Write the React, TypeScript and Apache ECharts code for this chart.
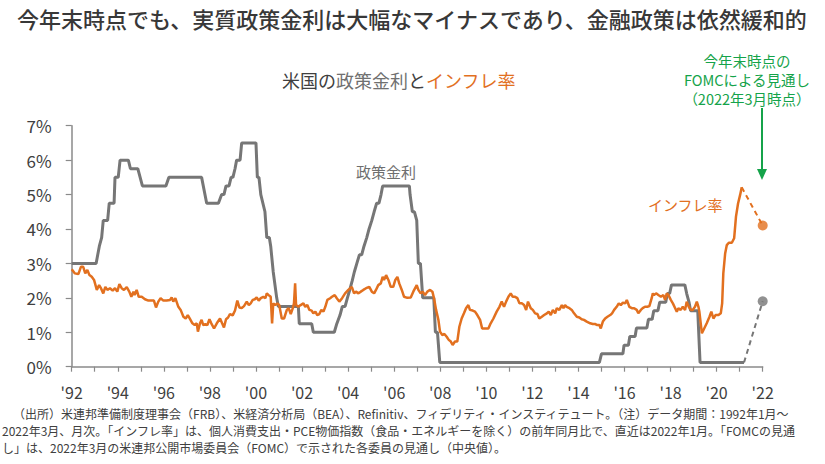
import { useEffect, useRef } from 'react';
import * as echarts from 'echarts';

const FONT = '"Noto Sans CJK JP", "Noto Sans", sans-serif';
const ORANGE = '#E2701F';
const GRAY = '#767676';
const GREEN = '#15A34A';
const TEXT = '#404040';
const AXIS = '#8a8a8a';

const TITLE = '今年末時点でも、実質政策金利は大幅なマイナスであり、金融政策は依然緩和的';
const NOTES = [
  '（出所）米連邦準備制度理事会（FRB）、米経済分析局（BEA）、Refinitiv、フィデリティ・インスティテュート。（注）データ期間：1992年1月～',
  '2022年3月、月次。「インフレ率」は、個人消費支出・PCE物価指数（食品・エネルギーを除く）の前年同月比で、直近は2022年1月。「FOMCの見通',
  'し」は、2022年3月の米連邦公開市場委員会（FOMC）で示された各委員の見通し（中央値）。',
];
const FORECAST_NOTE = ['今年末時点の', 'FOMCによる見通し', '（2022年3月時点）'];

// x axis span (years) and y axis span (%)
const X_MIN = 1992;
const X_MAX = 2022;
const Y_MAX = 7;

// Policy rate (%), vertices of the monthly line
const policyRate: [number, number][] = [
  [1992.0, 3.0], [1993.06, 3.0], [1993.2, 3.5], [1993.3, 3.75], [1993.37, 4.25], [1993.56, 4.25],
  [1993.63, 4.75], [1993.84, 4.75], [1993.88, 5.5], [1994.02, 5.5], [1994.1, 6.0], [1994.46, 6.0],
  [1994.55, 5.75], [1994.87, 5.75], [1995.07, 5.25], [1996.09, 5.25], [1996.22, 5.5], [1997.64, 5.5],
  [1997.86, 4.75], [1998.37, 4.75], [1998.51, 5.0], [1998.61, 5.0], [1998.7, 5.25], [1998.83, 5.25],
  [1998.92, 5.5], [1999.0, 5.5], [1999.09, 5.75], [1999.16, 6.0], [1999.31, 6.0], [1999.38, 6.5],
  [2000.0, 6.5], [2000.06, 5.5], [2000.13, 5.5], [2000.21, 5.0], [2000.39, 4.5], [2000.47, 3.75],
  [2000.58, 3.75], [2000.64, 3.5], [2000.75, 2.75], [2000.9, 2.0], [2000.97, 1.75], [2001.84, 1.75],
  [2001.88, 1.25], [2002.42, 1.25], [2002.49, 1.0], [2003.4, 1.0], [2003.51, 1.25], [2003.65, 1.5],
  [2003.75, 1.75], [2003.87, 1.75], [2003.97, 2.0], [2004.08, 2.25], [2004.18, 2.5], [2004.27, 2.75],
  [2004.38, 3.0], [2004.49, 3.25], [2004.59, 3.25], [2004.69, 3.5], [2004.81, 3.75], [2004.91, 4.0],
  [2005.03, 4.25], [2005.13, 4.5], [2005.24, 4.75], [2005.34, 4.75], [2005.43, 5.0], [2005.5, 5.25],
  [2006.66, 5.25], [2006.69, 5.0], [2006.79, 4.5], [2006.88, 4.5], [2006.98, 4.25], [2007.05, 3.0],
  [2007.14, 3.0], [2007.24, 2.0], [2007.72, 2.0], [2007.79, 1.0], [2007.88, 1.0], [2007.98, 0.125],
  [2014.91, 0.125], [2015.0, 0.375], [2015.93, 0.375], [2015.98, 0.625], [2016.17, 0.625], [2016.23, 0.875],
  [2016.46, 0.875], [2016.52, 1.125], [2016.97, 1.125], [2017.04, 1.375], [2017.2, 1.375], [2017.27, 1.625],
  [2017.45, 1.625], [2017.53, 1.875], [2017.79, 1.875], [2017.86, 2.125], [2017.96, 2.125], [2018.04, 2.375],
  [2018.62, 2.375], [2018.7, 2.125], [2018.8, 1.875], [2018.87, 1.625], [2019.18, 1.625], [2019.28, 0.125],
  [2021.19, 0.125],
];

// Core PCE inflation, year over year (%)
const inflation: [number, number][] = [
  [1992.0, 2.83], [1992.14, 2.71], [1992.29, 2.69], [1992.4, 2.9], [1992.5, 2.9], [1992.59, 2.71],
  [1992.68, 2.81], [1992.77, 2.66], [1992.87, 2.61], [1992.97, 2.52], [1993.09, 2.23], [1993.19, 2.37],
  [1993.27, 2.28], [1993.37, 2.13], [1993.46, 2.32], [1993.55, 2.23], [1993.66, 2.28], [1993.78, 2.21],
  [1993.88, 2.28], [1993.98, 2.18], [1994.07, 2.4], [1994.17, 2.28], [1994.27, 2.23], [1994.39, 2.31],
  [1994.5, 2.18], [1994.59, 2.03], [1994.68, 2.18], [1994.73, 2.08], [1994.82, 2.23], [1994.91, 2.03],
  [1995.04, 2.03], [1995.18, 1.96], [1995.33, 1.92], [1995.47, 1.92], [1995.57, 1.92], [1995.66, 1.72],
  [1995.76, 1.89], [1995.86, 1.99], [1995.98, 1.92], [1996.12, 1.92], [1996.27, 1.94], [1996.34, 2.01],
  [1996.41, 1.89], [1996.5, 1.99], [1996.63, 1.74], [1996.73, 1.65], [1996.85, 1.45], [1996.95, 1.4],
  [1997.04, 1.5], [1997.14, 1.38], [1997.24, 1.26], [1997.34, 1.21], [1997.43, 1.26], [1997.48, 1.02],
  [1997.57, 1.26], [1997.64, 1.36], [1997.71, 1.21], [1997.8, 1.24], [1997.89, 1.21], [1997.98, 1.38],
  [1998.06, 1.26], [1998.18, 1.11], [1998.3, 1.26], [1998.44, 1.4], [1998.53, 1.26], [1998.61, 1.14],
  [1998.7, 1.38], [1998.79, 1.43], [1998.87, 1.53], [1998.99, 1.49], [1999.09, 1.63], [1999.19, 1.92],
  [1999.28, 1.72], [1999.38, 1.7], [1999.48, 1.76], [1999.6, 1.89], [1999.69, 1.79], [1999.77, 1.84],
  [1999.86, 1.94], [1999.95, 1.96], [2000.03, 2.01], [2000.12, 1.92], [2000.21, 1.99], [2000.32, 2.03],
  [2000.41, 1.99], [2000.47, 2.13], [2000.55, 2.08], [2000.64, 2.03], [2000.7, 1.26], [2000.75, 1.84],
  [2000.84, 1.79], [2000.93, 1.84], [2001.01, 1.79], [2001.12, 1.4], [2001.22, 1.4], [2001.34, 1.65],
  [2001.42, 1.7], [2001.51, 1.53], [2001.6, 1.7], [2001.65, 1.84], [2001.7, 2.42], [2001.74, 1.79],
  [2001.84, 1.74], [2001.94, 1.79], [2002.06, 1.84], [2002.14, 1.74], [2002.23, 1.79], [2002.32, 1.65],
  [2002.42, 1.63], [2002.49, 1.55], [2002.58, 1.6], [2002.66, 1.5], [2002.75, 1.53], [2002.84, 1.65],
  [2002.93, 1.6], [2003.01, 1.74], [2003.1, 1.94], [2003.22, 1.99], [2003.3, 2.03], [2003.42, 2.08],
  [2003.51, 1.99], [2003.62, 1.89], [2003.74, 1.99], [2003.87, 2.13], [2004.01, 2.23], [2004.16, 2.32],
  [2004.26, 2.13], [2004.34, 2.18], [2004.45, 2.13], [2004.55, 2.18], [2004.66, 2.23], [2004.78, 2.28],
  [2004.92, 2.32], [2005.03, 2.18], [2005.13, 2.13], [2005.21, 2.23], [2005.31, 2.37], [2005.42, 2.42],
  [2005.5, 2.61], [2005.56, 2.52], [2005.65, 2.66], [2005.75, 2.52], [2005.85, 2.32], [2005.96, 2.32],
  [2006.05, 2.52], [2006.14, 2.61], [2006.22, 2.42], [2006.33, 2.23], [2006.43, 2.03], [2006.57, 2.0],
  [2006.72, 2.01], [2006.83, 2.18], [2006.98, 2.37], [2007.05, 2.23], [2007.15, 2.13], [2007.24, 2.18],
  [2007.34, 2.08], [2007.44, 2.18], [2007.56, 2.23], [2007.66, 2.18], [2007.73, 1.99], [2007.82, 1.65],
  [2007.92, 1.36], [2007.99, 1.02], [2008.09, 0.92], [2008.18, 0.95], [2008.28, 0.87], [2008.37, 0.78],
  [2008.46, 0.73], [2008.54, 0.63], [2008.64, 0.73], [2008.74, 0.73], [2008.83, 1.16], [2008.93, 1.4],
  [2009.03, 1.55], [2009.12, 1.7], [2009.22, 1.79], [2009.29, 1.65], [2009.41, 1.63], [2009.51, 1.6],
  [2009.61, 1.5], [2009.73, 1.36], [2009.82, 1.11], [2009.95, 1.11], [2010.09, 1.11], [2010.19, 1.26],
  [2010.31, 1.4], [2010.45, 1.6], [2010.57, 1.74], [2010.67, 1.89], [2010.77, 1.74], [2010.86, 1.89],
  [2010.96, 2.03], [2011.06, 2.13], [2011.15, 2.03], [2011.25, 2.03], [2011.35, 1.99], [2011.44, 1.84],
  [2011.54, 1.84], [2011.64, 1.79], [2011.73, 1.65], [2011.81, 1.89], [2011.93, 1.7], [2012.02, 1.65],
  [2012.12, 1.55], [2012.22, 1.53], [2012.3, 1.4], [2012.41, 1.45], [2012.51, 1.5], [2012.63, 1.55],
  [2012.71, 1.6], [2012.8, 1.5], [2012.89, 1.65], [2012.99, 1.55], [2013.06, 1.7], [2013.17, 1.65],
  [2013.28, 1.79], [2013.35, 1.7], [2013.42, 1.79], [2013.49, 1.74], [2013.61, 1.7], [2013.71, 1.65],
  [2013.81, 1.55], [2013.93, 1.45], [2014.04, 1.43], [2014.14, 1.38], [2014.24, 1.36], [2014.36, 1.31],
  [2014.51, 1.26], [2014.62, 1.24], [2014.72, 1.24], [2014.82, 1.21], [2014.91, 1.21], [2014.97, 1.11],
  [2015.06, 1.31], [2015.16, 1.4], [2015.26, 1.45], [2015.38, 1.5], [2015.46, 1.55], [2015.55, 1.65],
  [2015.66, 1.74], [2015.75, 1.84], [2015.84, 1.79], [2015.93, 1.86], [2016.03, 1.84], [2016.1, 1.94],
  [2016.21, 1.74], [2016.32, 1.7], [2016.42, 1.7], [2016.53, 1.65], [2016.6, 1.55], [2016.71, 1.65],
  [2016.79, 1.7], [2016.89, 1.74], [2016.99, 1.74], [2017.08, 1.76], [2017.18, 1.99], [2017.23, 2.13],
  [2017.28, 2.08], [2017.37, 2.13], [2017.47, 2.08], [2017.58, 2.03], [2017.69, 2.08], [2017.76, 1.94],
  [2017.84, 2.13], [2017.91, 2.08], [2018.01, 1.94], [2018.1, 1.84], [2018.2, 1.7], [2018.27, 1.6],
  [2018.34, 1.7], [2018.44, 1.65], [2018.53, 1.74], [2018.63, 1.65], [2018.7, 1.89], [2018.79, 1.74],
  [2018.88, 1.65], [2018.96, 1.65], [2019.06, 1.74], [2019.14, 1.89], [2019.21, 1.74], [2019.25, 1.6],
  [2019.36, 0.97], [2019.46, 1.11], [2019.57, 1.26], [2019.69, 1.45], [2019.77, 1.6], [2019.86, 1.4],
  [2019.95, 1.5], [2020.08, 1.5], [2020.18, 1.55], [2020.24, 1.84], [2020.29, 2.71], [2020.37, 3.29],
  [2020.44, 3.53], [2020.53, 3.6], [2020.66, 3.6], [2020.76, 3.73], [2020.84, 4.36], [2020.93, 4.74],
  [2021.02, 4.99], [2021.09, 5.21],
];

// FOMC median projections for year-end
const FORECAST_X = 2022;
const policyForecast = 1.9;
const inflationForecast = 4.1;

export default function App() {
  const ref = useRef<HTMLDivElement>(null);

  useEffect(() => {
    if (!ref.current) return;
    const chart = echarts.init(ref.current, undefined, { renderer: 'svg' });

    const lastPolicy = policyRate[policyRate.length - 1];
    const lastInflation = inflation[inflation.length - 1];

    const textEl = (
      x: number,
      y: number,
      text: string,
      size: number,
      fill: string,
      align = 'left',
      weight: string | number = 'normal',
    ) => ({
      type: 'text',
      x,
      y,
      silent: true,
      style: {
        text,
        fill,
        fontSize: size,
        fontFamily: FONT,
        fontWeight: weight,
        align,
        textAlign: align,
        verticalAlign: 'middle',
        textVerticalAlign: 'middle',
      },
    });

    chart.setOption({
      animation: false,
      textStyle: { fontFamily: FONT },
      grid: { left: 71.7, top: 125.7, width: 691, height: 241 },
      xAxis: {
        type: 'value',
        min: X_MIN,
        max: X_MAX,
        interval: 1,
        axisLine: { show: true, lineStyle: { color: AXIS, width: 1.5 } },
        axisTick: { show: true, length: 5, lineStyle: { color: AXIS, width: 1.2 } },
        axisLabel: {
          margin: 17,
          fontSize: 16,
          color: TEXT,
          fontFamily: FONT,
          formatter: (v: number) => {
            const y = Math.round(v);
            return y % 2 === 0 ? "'" + String(y).slice(2) : '';
          },
        },
        splitLine: { show: false },
      },
      yAxis: {
        type: 'value',
        min: 0,
        max: Y_MAX,
        interval: 1,
        axisLine: { show: true, lineStyle: { color: AXIS, width: 1.5 } },
        axisTick: { show: true, length: 6, lineStyle: { color: AXIS, width: 1.2 } },
        axisLabel: { formatter: '{value}%', fontSize: 17, color: TEXT, margin: 20, fontFamily: FONT },
        splitLine: { show: false },
      },
      series: [
        {
          name: '政策金利',
          type: 'line',
          data: policyRate,
          showSymbol: false,
          lineStyle: { color: GRAY, width: 3 },
          z: 2,
        },
        {
          type: 'line',
          data: [lastPolicy, [FORECAST_X, policyForecast]],
          showSymbol: false,
          lineStyle: { color: GRAY, width: 2, type: [5, 4] },
          z: 2,
        },
        {
          name: 'インフレ率',
          type: 'line',
          data: inflation,
          showSymbol: false,
          lineStyle: { color: ORANGE, width: 2.5 },
          z: 3,
        },
        {
          type: 'line',
          data: [lastInflation, [FORECAST_X, inflationForecast]],
          showSymbol: false,
          lineStyle: { color: ORANGE, width: 2, type: [5, 4] },
          z: 3,
        },
        {
          type: 'scatter',
          data: [[FORECAST_X, inflationForecast]],
          symbolSize: 10,
          clip: false,
          itemStyle: { color: ORANGE },
          z: 4,
        },
        {
          type: 'scatter',
          data: [[FORECAST_X, policyForecast]],
          symbolSize: 10,
          clip: false,
          itemStyle: { color: GRAY },
          z: 4,
        },
      ],
      graphic: [
        textEl(17, 18, TITLE, 22, '#383838', 'left', 500),
        {
          type: 'text',
          x: 282,
          y: 80,
          silent: true,
          style: {
            text: '{a|米国の}{b|政策金利}{a|と}{c|インフレ率}',
            fontSize: 18,
            fontFamily: FONT,
            verticalAlign: 'middle',
            textVerticalAlign: 'middle',
            rich: {
              a: { fill: '#404040', color: '#404040', fontSize: 18, fontFamily: FONT },
              b: { fill: '#707070', color: '#707070', fontSize: 18, fontFamily: FONT },
              c: { fill: ORANGE, color: ORANGE, fontSize: 18, fontFamily: FONT },
            },
          },
        },
        // projection note, one line per element
        textEl(747, 60, FORECAST_NOTE[0], 14.5, GREEN, 'center'),
        textEl(747, 79, FORECAST_NOTE[1], 14.5, GREEN, 'center'),
        textEl(747, 98, FORECAST_NOTE[2], 14.5, GREEN, 'center'),
        {
          type: 'line',
          silent: true,
          shape: { x1: 762, y1: 108, x2: 762, y2: 172 },
          style: { stroke: GREEN, lineWidth: 2 },
        },
        {
          type: 'polygon',
          silent: true,
          shape: { points: [[757, 169], [767, 169], [762, 180]] },
          style: { fill: GREEN },
        },
        textEl(356, 171, '政策金利', 15, '#6e6e6e'),
        textEl(648, 204, 'インフレ率', 15, ORANGE),
        textEl(13, 413, NOTES[0], 12, TEXT),
        textEl(2, 430, NOTES[1], 12, TEXT),
        textEl(2, 447, NOTES[2], 12, TEXT),
      ],
    });

    return () => chart.dispose();
  }, []);

  return <div ref={ref} style={{ position: 'absolute', left: 0, top: 0, width: 825, height: 464 }} />;
}
